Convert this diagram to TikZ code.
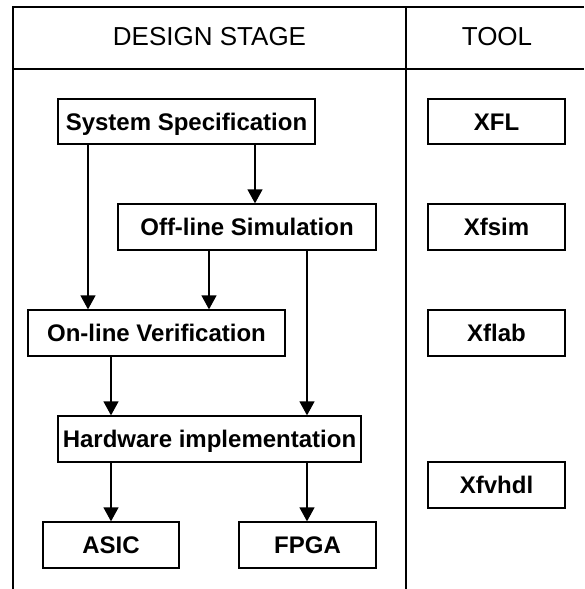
\documentclass[tikz,border=0pt]{standalone}
\usepackage{fontspec}
\setmainfont{Liberation Sans}
\usetikzlibrary{arrows.meta}
\begin{document}
\begin{tikzpicture}[x=1pt,y=-1pt,
  grid/.style={line width=1.8pt},
  stagebox/.style={draw,line width=1.3pt,inner sep=0pt,minimum height=46pt,
    font=\fontsize{24}{28}\selectfont\bfseries,text height=17pt,text depth=0pt},
  headtext/.style={inner sep=0pt,font=\fontsize{26}{30}\selectfont,text height=18.6pt,text depth=0pt},
  arr/.style={line width=1.3pt,-{Triangle[length=14pt,width=15pt]}}]
\useasboundingbox (0,0) rectangle (584,589);
% table
\draw[grid] (584,7) -- (13,7) -- (13,589);
\draw[grid] (13,69) -- (584,69);
\draw[grid] (406,7) -- (406,589);
\node[headtext] (h1) at (209.5,36.5) {DESIGN STAGE};
\node[headtext] (h2) at (497,36.5) {TOOL};
% stage boxes
\node[stagebox,minimum width=257pt,minimum height=45pt] (ss) at (186.5,121.5) {System Specification};
\node[stagebox,minimum width=258pt] (off) at (247,227) {Off-line Simulation};
\node[stagebox,minimum width=257pt] (on) at (156.5,333) {On-line Verification};
\node[stagebox,minimum width=303pt] (hw) at (209.5,439) {Hardware implementation};
\node[stagebox,minimum width=136pt] (asic) at (111,545) {ASIC};
\node[stagebox,minimum width=137pt] (fpga) at (307.5,545) {FPGA};
% tool boxes
\node[stagebox,minimum width=137pt,minimum height=45pt] (xfl) at (496.5,121.5) {XFL};
\node[stagebox,minimum width=137pt] (xfsim) at (496.5,227) {Xfsim};
\node[stagebox,minimum width=137pt] (xflab) at (496.5,333) {Xflab};
\node[stagebox,minimum width=137pt] (xfvhdl) at (496.5,485) {Xfvhdl};
% arrow columns
\coordinate (c1) at (88,0);
\coordinate (c2) at (255,0);
\coordinate (c3) at (209,0);
\coordinate (c4) at (307,0);
\coordinate (c5) at (111,0);
\draw[arr] (ss.south -| c1) -- (on.north -| c1);
\draw[arr] (ss.south -| c2) -- (off.north -| c2);
\draw[arr] (off.south -| c3) -- (on.north -| c3);
\draw[arr] (off.south -| c4) -- (hw.north -| c4);
\draw[arr] (on.south -| c5) -- (hw.north -| c5);
\draw[arr] (hw.south -| c5) -- (asic.north -| c5);
\draw[arr] (hw.south -| c4) -- (fpga.north -| c4);
\end{tikzpicture}
\end{document}
